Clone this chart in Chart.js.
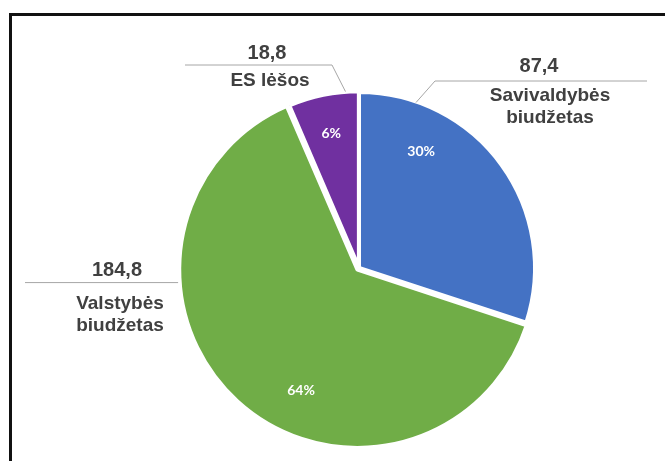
<!DOCTYPE html>
<html>
<head>
<meta charset="utf-8">
<script src="https://cdn.jsdelivr.net/npm/chart.js@4.4.1/dist/chart.umd.min.js"></script>
<style>
  html, body { margin: 0; padding: 0; background: #fff; }
  #wrap { position: relative; width: 665px; height: 461px; overflow: hidden; }
  #frame { position: absolute; left: 9px; top: 13px; width: 700px; height: 500px;
           border-left: 3px solid #111; border-top: 3px solid #111; }
  canvas { position: absolute; left: 0; top: 0; }
</style>
</head>
<body>
<div id="wrap">
  <div id="frame"></div>
  <canvas id="grafica" width="665" height="461"></canvas>
</div>
<script>
// datos
const categorias = ['Savivaldybės biudžetas', 'Valstybės biudžetas', 'ES lėšos'];
const nombres = [['Savivaldybės', 'biudžetas'], ['Valstybės', 'biudžetas'], ['ES lėšos']];
const valores = [87.4, 184.8, 18.8];
const colores = ['#4472C4', '#70AD47', '#7030A0'];
const explotar = [0, 9, 2];

// donde va cada etiqueta (px relativos al centro del pastel)
const etiquetas = [
  { ang: -71, codo: [76, -187], fin: 288, valor: [180, -202], nombre: [191, -172] },
  { ang: 177.4, codo: null, fin: -334, valor: [-242, 2], nombre: [-239, 36] },
  { ang: -94.3, codo: [-27, -203], fin: -174, valor: [-92, -215], nombre: [-89, -187] }
];
// posicion del porcentaje dentro de la porcion
const pctAng = [0.26, 0.42, 0.5];
const pctRad = [0.75, 0.72, 0.77];

function fmt(v) {
  return v.toFixed(1).replace('.', ',');
}

const etiquetasPlugin = {
  id: 'etiquetas',
  afterDatasetsDraw(chart) {
    const ctx = chart.ctx;
    const meta = chart.getDatasetMeta(0);
    const total = valores.reduce((a, b) => a + b, 0);
    ctx.save();
    meta.data.forEach(function(arc, i) {
      const cx = arc.x, cy = arc.y, r = arc.outerRadius;
      const mid = (arc.startAngle + arc.endAngle) / 2;
      const ox = Math.cos(mid) * explotar[i], oy = Math.sin(mid) * explotar[i];

      // porcentaje
      const a = arc.startAngle + (arc.endAngle - arc.startAngle) * pctAng[i];
      const px = cx + ox + Math.cos(a) * r * pctRad[i];
      const py = cy + oy + Math.sin(a) * r * pctRad[i];
      ctx.fillStyle = '#ffffff';
      ctx.font = 'bold 14px Lato';
      ctx.textAlign = 'center';
      ctx.textBaseline = 'middle';
      ctx.fillText(Math.round(valores[i] / total * 100) + '%', px, py);

      // linea guia
      const e = etiquetas[i];
      const an = e.ang * Math.PI / 180;
      const sx = cx + ox + Math.cos(an) * (r - 1);
      const sy = cy + oy + Math.sin(an) * (r - 1);
      ctx.strokeStyle = '#a6a6a6';
      ctx.lineWidth = 1;
      ctx.beginPath();
      ctx.moveTo(sx, sy);
      let ly = sy;
      if (e.codo) {
        ctx.lineTo(cx + e.codo[0], cy + e.codo[1]);
        ly = cy + e.codo[1];
      }
      ctx.lineTo(cx + e.fin, ly);
      ctx.stroke();

      // texto
      ctx.fillStyle = '#404040';
      ctx.font = 'bold 20px "Liberation Sans"';
      ctx.fillText(fmt(valores[i]), cx + e.valor[0], cy + e.valor[1]);
      ctx.font = 'bold 19px "Liberation Sans"';
      nombres[i].forEach(function(t, k) {
        ctx.fillText(t, cx + e.nombre[0], cy + e.nombre[1] + k * 22);
      });
    });
    ctx.restore();
  }
};

new Chart(document.getElementById('grafica'), {
  type: 'pie',
  data: {
    labels: categorias,
    datasets: [{
      data: valores,
      backgroundColor: colores,
      borderColor: '#ffffff',
      borderWidth: 4,
      offset: explotar
    }]
  },
  options: {
    responsive: false,
    animation: false,
    radius: 176,
    layout: { padding: { left: 60, right: 7, top: 80, bottom: 5 } },
    plugins: {
      legend: { display: false },
      tooltip: { enabled: false }
    }
  },
  plugins: [etiquetasPlugin]
});
</script>
</body>
</html>
